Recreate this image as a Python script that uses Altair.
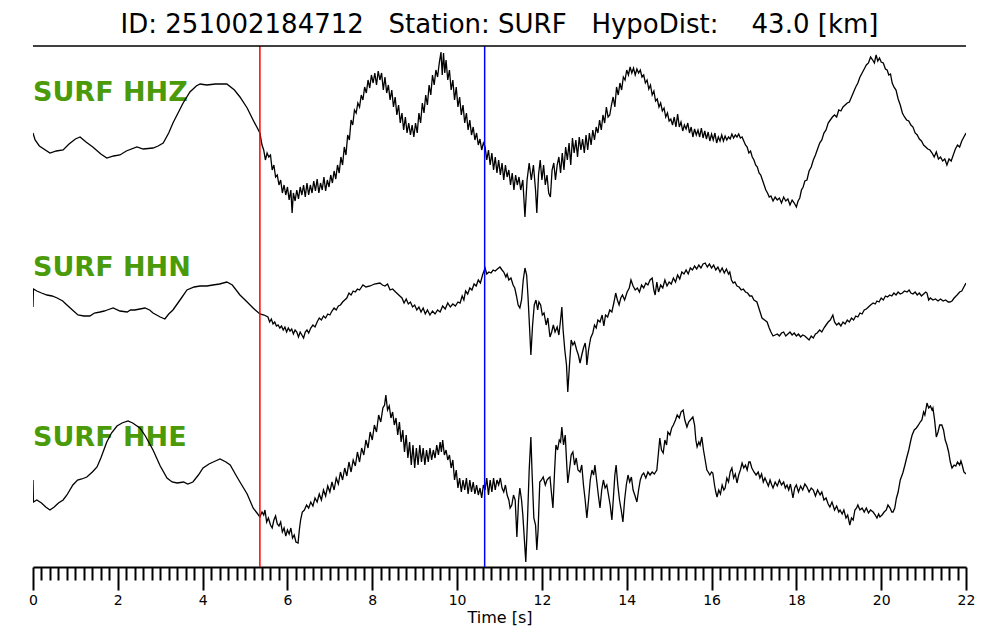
import altair as alt
import pandas as pd

# ---------------- data ----------------
TITLE = "ID: 251002184712\u00a0\u00a0\u00a0Station: SURF\u00a0\u00a0\u00a0HypoDist:\u00a0\u00a0\u00a0\u00a043.0 [km]"
STATION = "SURF"
CHANNELS = ["HHZ", "HHN", "HHE"]
PICK_TIMES = [5.35, 10.65]
PICK_COLORS = ["#ff0000", "#0000ff"]

# (time [s], amplitude) samples
HHZ = [(0.00, 2), (0.05, -5), (0.15, -11), (0.40, -18), (0.55, -16), (0.71, -15), (0.85, -9), (1.00, -4), (1.11, -2), (1.25, -7),
       (1.41, -12), (1.60, -19), (1.74, -23), (1.90, -21), (2.05, -20), (2.20, -16), (2.45, -12), (2.60, -14), (2.83, -13), (2.95, -11),
       (3.07, -8), (3.20, 2), (3.30, 12), (3.54, 32), (3.70, 43), (3.85, 49), (3.94, 51), (4.10, 50), (4.30, 51), (4.57, 51),
       (4.75, 45), (4.88, 38), (5.05, 27), (5.19, 15), (5.35, 2), (5.40, -10), (5.44, -15), (5.48, -25), (5.52, -18), (5.56, -22),
       (5.60, -20), (5.64, -35), (5.68, -30), (5.72, -42), (5.76, -40), (5.80, -50), (5.84, -45), (5.88, -58), (5.92, -50), (5.96, -60),
       (6.00, -52), (6.04, -65), (6.08, -55), (6.11, -78), (6.14, -58), (6.18, -66), (6.22, -55), (6.26, -64), (6.30, -52), (6.34, -60),
       (6.38, -50), (6.42, -62), (6.46, -48), (6.50, -60), (6.54, -50), (6.58, -58), (6.62, -46), (6.66, -56), (6.70, -44), (6.74, -58),
       (6.78, -48), (6.82, -55), (6.86, -42), (6.90, -56), (6.94, -45), (6.98, -52), (7.02, -40), (7.06, -48), (7.10, -36), (7.14, -44),
       (7.18, -30), (7.22, -38), (7.26, -22), (7.30, -30), (7.34, -12), (7.38, -20), (7.42, 0), (7.46, -5), (7.50, 15), (7.54, 10),
       (7.58, 25), (7.62, 22), (7.66, 32), (7.70, 28), (7.74, 40), (7.78, 35), (7.82, 48), (7.86, 42), (7.90, 55), (7.94, 47),
       (7.98, 60), (8.02, 52), (8.06, 62), (8.10, 50), (8.14, 64), (8.18, 55), (8.22, 62), (8.26, 45), (8.30, 58), (8.34, 42),
       (8.38, 50), (8.42, 35), (8.46, 45), (8.50, 28), (8.54, 38), (8.58, 20), (8.62, 30), (8.66, 12), (8.70, 22), (8.74, 5),
       (8.78, 18), (8.82, 2), (8.86, 12), (8.90, 0), (8.94, 10), (8.98, -2), (9.02, 12), (9.06, 2), (9.10, 22), (9.14, 12),
       (9.18, 32), (9.22, 22), (9.26, 40), (9.30, 30), (9.34, 50), (9.38, 40), (9.42, 60), (9.46, 50), (9.50, 65), (9.54, 58),
       (9.58, 72), (9.62, 83), (9.65, 60), (9.68, 82), (9.71, 62), (9.74, 75), (9.78, 55), (9.82, 65), (9.86, 45), (9.90, 55),
       (9.94, 35), (9.98, 48), (10.02, 28), (10.06, 38), (10.10, 20), (10.14, 30), (10.18, 12), (10.22, 22), (10.26, 5), (10.30, 15),
       (10.34, 0), (10.38, 8), (10.42, -5), (10.46, 2), (10.50, -10), (10.54, -4), (10.58, -15), (10.62, -8), (10.66, -12), (10.70, -25),
       (10.74, -15), (10.78, -30), (10.82, -18), (10.86, -35), (10.90, -22), (10.94, -38), (10.98, -25), (11.02, -40), (11.06, -28), (11.10, -45),
       (11.14, -30), (11.18, -42), (11.22, -35), (11.26, -50), (11.30, -38), (11.34, -55), (11.38, -40), (11.42, -50), (11.46, -42), (11.50, -55),
       (11.55, -45), (11.60, -82), (11.65, -45), (11.70, -28), (11.75, -45), (11.80, -30), (11.85, -55), (11.88, -78), (11.92, -40), (11.96, -25),
       (12.00, -45), (12.04, -30), (12.08, -50), (12.12, -40), (12.16, -58), (12.20, -62), (12.24, -35), (12.28, -28), (12.32, -45), (12.36, -30),
       (12.40, -22), (12.44, -38), (12.48, -18), (12.52, -35), (12.56, -12), (12.60, -25), (12.64, -8), (12.68, -30), (12.72, -3), (12.76, -18),
       (12.80, -5), (12.84, -22), (12.88, -2), (12.92, -15), (12.96, -4), (13.00, -18), (13.04, 0), (13.08, -15), (13.12, 2), (13.16, -10),
       (13.20, 5), (13.24, -5), (13.28, 8), (13.32, 2), (13.36, 15), (13.40, 5), (13.44, 20), (13.48, 12), (13.52, 28), (13.56, 18),
       (13.60, 20), (13.64, 30), (13.68, 38), (13.72, 28), (13.76, 48), (13.80, 40), (13.84, 52), (13.88, 45), (13.92, 58), (13.96, 55),
       (14.00, 65), (14.04, 60), (14.08, 68), (14.12, 62), (14.16, 67), (14.20, 60), (14.24, 66), (14.28, 62), (14.32, 65), (14.36, 58),
       (14.40, 60), (14.44, 52), (14.48, 55), (14.52, 46), (14.56, 50), (14.60, 40), (14.64, 44), (14.68, 34), (14.72, 36), (14.76, 28),
       (14.80, 32), (14.84, 24), (14.88, 27), (14.92, 18), (14.96, 22), (15.00, 14), (15.04, 16), (15.08, 10), (15.12, 18), (15.16, 8),
       (15.20, 21), (15.24, 8), (15.28, 13), (15.32, 4), (15.36, 10), (15.40, 6), (15.44, 12), (15.48, 2), (15.52, 8), (15.56, -2),
       (15.60, 6), (15.64, 0), (15.68, 5), (15.72, -2), (15.76, 7), (15.80, -3), (15.84, 4), (15.88, -4), (15.92, 3), (15.96, -6),
       (16.00, 1), (16.04, -5), (16.08, 2), (16.12, -8), (16.16, -2), (16.20, -6), (16.24, 0), (16.28, -6), (16.32, -1), (16.36, -5),
       (16.40, -2), (16.44, -4), (16.48, 1), (16.52, -3), (16.56, 0), (16.60, -2), (16.64, 1), (16.68, -3), (16.72, -2), (16.76, -6),
       (16.80, -10), (16.84, -12), (16.88, -18), (16.92, -16), (16.96, -22), (17.00, -25), (17.04, -30), (17.08, -32), (17.12, -38), (17.16, -40),
       (17.20, -45), (17.24, -50), (17.28, -55), (17.32, -58), (17.36, -62), (17.40, -61), (17.45, -66), (17.50, -62), (17.55, -65), (17.60, -63),
       (17.65, -68), (17.70, -62), (17.75, -66), (17.80, -64), (17.85, -70), (17.90, -65), (17.95, -68), (18.00, -72), (18.04, -66), (18.08, -63),
       (18.12, -55), (18.16, -52), (18.20, -46), (18.25, -45), (18.30, -36), (18.35, -32), (18.40, -25), (18.45, -20), (18.50, -14), (18.55, -8),
       (18.60, -5), (18.65, 2), (18.70, 5), (18.75, 12), (18.80, 15), (18.85, 18), (18.90, 20), (18.95, 18), (19.00, 25), (19.05, 24),
       (19.10, 28), (19.15, 30), (19.20, 32), (19.25, 33), (19.30, 38), (19.35, 43), (19.40, 48), (19.45, 52), (19.50, 58), (19.55, 62),
       (19.60, 66), (19.65, 70), (19.70, 72), (19.75, 78), (19.80, 75), (19.84, 72), (19.88, 80), (19.92, 74), (19.96, 77), (20.00, 73),
       (20.05, 72), (20.10, 66), (20.14, 65), (20.18, 60), (20.22, 61), (20.26, 52), (20.30, 48), (20.35, 45), (20.40, 36), (20.45, 30),
       (20.50, 22), (20.55, 18), (20.60, 15), (20.65, 14), (20.70, 10), (20.75, 8), (20.80, 2), (20.85, 0), (20.90, -4), (20.95, -6),
       (21.00, -10), (21.05, -12), (21.10, -14), (21.15, -15), (21.20, -18), (21.25, -22), (21.30, -17), (21.35, -24), (21.40, -22), (21.45, -26),
       (21.50, -24), (21.55, -30), (21.60, -24), (21.65, -26), (21.70, -20), (21.75, -14), (21.80, -10), (21.85, -12), (21.90, -6), (21.95, -2),
       (22.00, 2)]

HHN = [(0.00, 3), (0.01, 21), (0.09, 19), (0.20, 17), (0.33, 15), (0.45, 14), (0.57, 12), (0.70, 9), (0.80, 5), (0.93, 0),
       (1.06, -5), (1.20, -6), (1.34, -6), (1.45, -3), (1.58, -2), (1.68, -1), (1.75, 0), (1.89, 2), (2.05, -1), (2.22, -2),
       (2.30, 0), (2.40, 0), (2.52, 1), (2.64, 2), (2.75, 0), (2.83, -3), (3.00, -7), (3.11, -9), (3.20, -4), (3.30, 0),
       (3.40, 6), (3.50, 12), (3.63, 20), (3.80, 23), (3.94, 24), (4.10, 24), (4.24, 25), (4.40, 26), (4.57, 28), (4.70, 25),
       (4.88, 15), (5.05, 8), (5.19, 2), (5.35, -4), (5.45, -5), (5.54, -7), (5.58, -12), (5.62, -9), (5.66, -14), (5.70, -12),
       (5.74, -16), (5.78, -15), (5.82, -18), (5.86, -16), (5.90, -20), (5.94, -17), (5.98, -22), (6.02, -18), (6.06, -21), (6.10, -19),
       (6.14, -24), (6.18, -20), (6.22, -22), (6.26, -27), (6.30, -22), (6.34, -25), (6.38, -28), (6.42, -22), (6.46, -20), (6.50, -23),
       (6.55, -18), (6.60, -15), (6.65, -17), (6.70, -12), (6.75, -8), (6.80, -10), (6.85, -6), (6.90, -8), (6.95, -4), (7.00, -5),
       (7.05, -1), (7.10, 2), (7.15, 0), (7.20, 4), (7.25, 5), (7.30, 8), (7.35, 10), (7.40, 12), (7.45, 17), (7.50, 15),
       (7.55, 19), (7.60, 18), (7.65, 21), (7.70, 20), (7.78, 25), (7.85, 23), (7.95, 24), (8.05, 26), (8.18, 27), (8.24, 25),
       (8.30, 24), (8.36, 26), (8.42, 20), (8.48, 21), (8.55, 18), (8.60, 16), (8.65, 14), (8.70, 12), (8.75, 7), (8.80, 11),
       (8.85, 6), (8.90, 8), (8.95, 3), (9.00, 5), (9.05, 0), (9.10, 3), (9.15, -2), (9.20, 2), (9.25, -4), (9.30, 0),
       (9.36, -5), (9.42, -1), (9.48, -4), (9.54, 0), (9.60, -2), (9.66, 4), (9.72, 1), (9.78, 7), (9.84, 3), (9.90, 6),
       (9.96, 4), (10.02, 8), (10.07, 7), (10.12, 14), (10.16, 10), (10.20, 19), (10.25, 16), (10.30, 22), (10.35, 20), (10.40, 26),
       (10.45, 24), (10.50, 30), (10.55, 27), (10.60, 35), (10.66, 42), (10.70, 36), (10.75, 38), (10.80, 37), (10.85, 40), (10.90, 39),
       (10.95, 41), (11.01, 43), (11.06, 40), (11.10, 38), (11.15, 33), (11.18, 36), (11.22, 30), (11.27, 32), (11.32, 25), (11.36, 22),
       (11.40, 14), (11.44, 5), (11.48, 2), (11.52, 10), (11.56, 30), (11.60, 42), (11.64, 35), (11.67, 15), (11.70, -10), (11.74, -45),
       (11.78, -15), (11.82, 5), (11.86, 10), (11.90, 0), (11.93, 8), (11.97, 5), (12.01, -5), (12.05, -3), (12.10, -15), (12.14, -8),
       (12.19, -27), (12.23, -22), (12.27, -15), (12.31, -22), (12.36, -17), (12.40, -25), (12.44, -10), (12.47, 3), (12.50, -20), (12.54, -40),
       (12.58, -55), (12.61, -82), (12.65, -55), (12.69, -30), (12.73, -35), (12.77, -32), (12.82, -40), (12.86, -45), (12.90, -53), (12.94, -45),
       (12.98, -38), (13.02, -33), (13.04, -40), (13.06, -55), (13.10, -40), (13.15, -28), (13.20, -23), (13.24, -15), (13.28, -18), (13.32, -10),
       (13.37, -12), (13.42, -5), (13.46, -16), (13.50, -5), (13.55, -7), (13.60, 0), (13.65, -2), (13.70, 8), (13.74, 17), (13.78, 10),
       (13.82, 5), (13.86, 12), (13.90, 15), (13.95, 10), (14.01, 18), (14.06, 22), (14.10, 30), (14.15, 24), (14.20, 20), (14.25, 22),
       (14.30, 18), (14.35, 25), (14.40, 22), (14.45, 27), (14.50, 25), (14.55, 30), (14.60, 32), (14.64, 20), (14.67, 15), (14.71, 28),
       (14.75, 18), (14.80, 25), (14.85, 22), (14.90, 30), (14.95, 24), (15.00, 28), (15.05, 26), (15.10, 32), (15.15, 28), (15.20, 35),
       (15.25, 31), (15.30, 38), (15.35, 36), (15.40, 40), (15.45, 36), (15.50, 42), (15.55, 40), (15.60, 44), (15.65, 41), (15.70, 45),
       (15.75, 42), (15.80, 46), (15.85, 47), (15.90, 43), (15.95, 46), (16.00, 42), (16.05, 45), (16.10, 40), (16.15, 43), (16.20, 38),
       (16.25, 42), (16.30, 37), (16.35, 41), (16.40, 36), (16.43, 38), (16.47, 30), (16.51, 27), (16.55, 28), (16.60, 24), (16.65, 23),
       (16.70, 20), (16.75, 21), (16.80, 18), (16.85, 17), (16.90, 14), (16.95, 14), (17.00, 10), (17.07, 8), (17.13, 0), (17.19, -8),
       (17.25, -10), (17.31, -12), (17.36, -18), (17.40, -22), (17.45, -26), (17.50, -25), (17.55, -24), (17.60, -26), (17.65, -23), (17.70, -22),
       (17.75, -26), (17.80, -24), (17.85, -22), (17.90, -25), (17.95, -23), (18.00, -26), (18.05, -24), (18.10, -27), (18.15, -25), (18.20, -26),
       (18.25, -28), (18.30, -30), (18.35, -26), (18.40, -28), (18.45, -24), (18.49, -23), (18.55, -20), (18.60, -22), (18.65, -18), (18.70, -15),
       (18.75, -12), (18.80, -10), (18.86, -5), (18.90, -12), (18.95, -15), (19.00, -13), (19.05, -16), (19.10, -12), (19.15, -14), (19.20, -10),
       (19.25, -12), (19.30, -8), (19.35, -10), (19.40, -6), (19.45, -7), (19.50, -3), (19.55, -4), (19.60, 0), (19.65, 1), (19.70, 3),
       (19.75, 5), (19.81, 7), (19.86, 6), (19.90, 9), (19.95, 8), (20.00, 12), (20.05, 10), (20.10, 14), (20.15, 13), (20.20, 15),
       (20.25, 14), (20.30, 17), (20.35, 15), (20.40, 18), (20.45, 16), (20.50, 17), (20.55, 19), (20.61, 18), (20.66, 20), (20.70, 17),
       (20.75, 16), (20.80, 18), (20.85, 15), (20.90, 17), (20.95, 14), (21.00, 16), (21.05, 18), (21.08, 17), (21.12, 10), (21.16, 12),
       (21.22, 10), (21.28, 11), (21.34, 9), (21.40, 11), (21.46, 9), (21.52, 10), (21.58, 8), (21.62, 8), (21.67, 9), (21.72, 12),
       (21.79, 15), (21.85, 18), (21.90, 19), (21.95, 23), (22.00, 27)]

HHE = [(0.00, 0), (0.01, -22), (0.09, -20), (0.20, -23), (0.30, -27), (0.40, -30), (0.50, -27), (0.60, -23), (0.71, -20), (0.80, -15),
       (0.94, -5), (1.05, 0), (1.15, 1), (1.27, 3), (1.40, 8), (1.51, 13), (1.60, 22), (1.74, 38), (1.85, 47), (1.98, 54),
       (2.10, 57), (2.24, 59), (2.35, 57), (2.52, 52), (2.65, 44), (2.83, 30), (3.00, 14), (3.16, 2), (3.28, -2), (3.40, -3),
       (3.55, -2), (3.65, -4), (3.77, -2), (3.90, 5), (4.01, 12), (4.15, 16), (4.30, 19), (4.41, 21), (4.55, 18), (4.65, 15),
       (4.77, 6), (4.88, -2), (5.05, -14), (5.19, -28), (5.30, -34), (5.35, -37), (5.40, -32), (5.44, -35), (5.47, -30), (5.51, -42),
       (5.55, -38), (5.60, -45), (5.64, -48), (5.68, -40), (5.72, -36), (5.76, -44), (5.80, -46), (5.84, -42), (5.88, -52), (5.92, -48),
       (5.96, -56), (6.00, -50), (6.04, -54), (6.08, -48), (6.12, -58), (6.16, -55), (6.20, -62), (6.25, -63), (6.28, -50), (6.31, -40),
       (6.35, -32), (6.40, -30), (6.45, -25), (6.50, -28), (6.55, -22), (6.60, -26), (6.65, -18), (6.70, -22), (6.75, -14), (6.80, -20),
       (6.85, -10), (6.90, -16), (6.95, -6), (7.00, -12), (7.05, -2), (7.10, -10), (7.15, 2), (7.20, -4), (7.25, 8), (7.30, 0),
       (7.35, 12), (7.40, 4), (7.45, 18), (7.50, 8), (7.55, 20), (7.60, 14), (7.65, 28), (7.70, 18), (7.75, 32), (7.80, 25),
       (7.85, 40), (7.90, 32), (7.95, 48), (8.00, 40), (8.05, 55), (8.10, 48), (8.15, 65), (8.20, 58), (8.25, 72), (8.29, 75),
       (8.32, 85), (8.36, 70), (8.40, 74), (8.44, 62), (8.48, 68), (8.52, 55), (8.56, 62), (8.60, 45), (8.64, 58), (8.68, 38),
       (8.72, 50), (8.76, 28), (8.80, 45), (8.84, 22), (8.88, 38), (8.92, 15), (8.96, 35), (9.00, 12), (9.04, 32), (9.08, 15),
       (9.12, 35), (9.16, 18), (9.20, 32), (9.24, 15), (9.28, 30), (9.32, 18), (9.36, 32), (9.40, 20), (9.44, 30), (9.48, 22),
       (9.52, 35), (9.56, 25), (9.60, 38), (9.63, 28), (9.66, 40), (9.70, 25), (9.74, 30), (9.78, 20), (9.82, 25), (9.86, 12),
       (9.90, 20), (9.94, 0), (9.98, 10), (10.02, -8), (10.06, 2), (10.10, -12), (10.14, 0), (10.18, -10), (10.22, 2), (10.26, -14),
       (10.30, 0), (10.34, -12), (10.38, -2), (10.42, -14), (10.46, -5), (10.50, -15), (10.54, -8), (10.58, -18), (10.62, -5), (10.66, -10),
       (10.70, 2), (10.74, -15), (10.78, 0), (10.82, -12), (10.86, 2), (10.90, -10), (10.94, 0), (10.98, -5), (11.02, 2), (11.06, -8),
       (11.10, -12), (11.14, -5), (11.18, -15), (11.22, -20), (11.25, -28), (11.29, -25), (11.33, -15), (11.37, -20), (11.41, -57), (11.45, -20),
       (11.48, -8), (11.52, -20), (11.55, -35), (11.58, -55), (11.62, -82), (11.66, -40), (11.70, 10), (11.74, 43), (11.77, 5), (11.81, -38),
       (11.85, -45), (11.88, -70), (11.91, -50), (11.95, -2), (11.99, 0), (12.03, 3), (12.08, -5), (12.12, 0), (12.16, 2), (12.19, 3),
       (12.23, -15), (12.26, -28), (12.30, 10), (12.33, 35), (12.37, 30), (12.41, 40), (12.44, 38), (12.47, 53), (12.51, 35), (12.55, 45),
       (12.58, 20), (12.61, -3), (12.65, 10), (12.69, 25), (12.73, 28), (12.77, 15), (12.81, 22), (12.85, 10), (12.90, 8), (12.94, 15),
       (12.98, -5), (13.02, -20), (13.06, -38), (13.10, -20), (13.14, 0), (13.18, 10), (13.22, 5), (13.25, 15), (13.29, 0), (13.33, -15),
       (13.37, -28), (13.41, -10), (13.45, 0), (13.49, -8), (13.53, -5), (13.57, -15), (13.61, -25), (13.65, -40), (13.69, -15), (13.72, 5),
       (13.75, 15), (13.79, -5), (13.83, -20), (13.87, -30), (13.91, -42), (13.95, -20), (13.99, -5), (14.03, 5), (14.07, -2), (14.11, 3),
       (14.15, -10), (14.19, -15), (14.24, -22), (14.28, -10), (14.32, 0), (14.36, 5), (14.40, 7), (14.45, 2), (14.50, 8), (14.55, 5),
       (14.60, 8), (14.65, 6), (14.71, 10), (14.75, 28), (14.78, 42), (14.82, 30), (14.86, 27), (14.90, 40), (14.94, 35), (14.97, 48),
       (15.02, 45), (15.06, 52), (15.10, 55), (15.15, 60), (15.19, 65), (15.24, 62), (15.28, 68), (15.33, 70), (15.37, 60), (15.42, 53),
       (15.46, 58), (15.50, 60), (15.56, 63), (15.60, 55), (15.63, 40), (15.66, 33), (15.70, 38), (15.73, 35), (15.77, 43), (15.81, 30),
       (15.85, 20), (15.89, 10), (15.92, 8), (15.96, 5), (16.00, 8), (16.03, 7), (16.07, -5), (16.10, -12), (16.13, -17), (16.17, -10),
       (16.21, -14), (16.25, -5), (16.29, -10), (16.32, -8), (16.36, 2), (16.40, -2), (16.44, 8), (16.48, 12), (16.52, 2), (16.56, 6),
       (16.60, -3), (16.64, 5), (16.68, 10), (16.72, 17), (16.76, 12), (16.80, 15), (16.84, 10), (16.88, 18), (16.91, 18), (16.95, 12),
       (17.00, 8), (17.05, 5), (17.10, 8), (17.14, 2), (17.18, 6), (17.22, -2), (17.26, 2), (17.30, -2), (17.34, -6), (17.38, 0),
       (17.42, -5), (17.45, -8), (17.50, -2), (17.55, -6), (17.60, 0), (17.65, -5), (17.70, -2), (17.74, -8), (17.78, -5), (17.82, -10),
       (17.86, -4), (17.92, -18), (17.96, -8), (18.00, -5), (18.05, -12), (18.10, -6), (18.15, -10), (18.20, -4), (18.25, -7), (18.30, -12),
       (18.35, -8), (18.40, -10), (18.45, -16), (18.50, -10), (18.56, -15), (18.60, -12), (18.65, -20), (18.70, -18), (18.75, -24), (18.79, -27),
       (18.84, -22), (18.90, -30), (18.95, -26), (19.00, -32), (19.03, -30), (19.08, -34), (19.12, -30), (19.17, -38), (19.21, -35), (19.26, -45),
       (19.30, -38), (19.34, -40), (19.38, -30), (19.42, -28), (19.45, -25), (19.50, -30), (19.55, -28), (19.60, -32), (19.65, -28), (19.70, -33),
       (19.75, -30), (19.81, -32), (19.86, -35), (19.90, -38), (19.94, -34), (19.97, -37), (20.02, -35), (20.07, -32), (20.12, -30), (20.16, -25),
       (20.21, -28), (20.25, -32), (20.28, -32), (20.32, -28), (20.36, -18), (20.40, -12), (20.45, 0), (20.51, 7), (20.56, 15), (20.60, 22),
       (20.65, 30), (20.70, 40), (20.73, 45), (20.78, 50), (20.83, 52), (20.88, 55), (20.92, 58), (20.96, 60), (21.00, 68), (21.03, 65),
       (21.06, 72), (21.08, 77), (21.12, 72), (21.16, 74), (21.20, 70), (21.22, 72), (21.26, 60), (21.30, 43), (21.34, 48), (21.38, 55),
       (21.43, 55), (21.47, 50), (21.51, 40), (21.55, 35), (21.59, 28), (21.63, 18), (21.67, 12), (21.72, 15), (21.76, 14), (21.80, 18),
       (21.85, 15), (21.88, 19), (21.91, 15), (21.95, 8), (22.00, 6)]

# ---------------- layout (not data) ----------------
W, H = 933, 521
OFFSETS = {"HHZ": 0, "HHN": -175, "HHE": -345}
LABEL_RISE = 34
Y_DOMAIN = [-432, 89]
X_TICKS = [round(i * 0.2, 1) for i in range(111)]
MAJOR = "abs(datum.value - 2 * round(datum.value / 2)) < 0.01"
GREEN = "#4b9a0a"
FONT = "DejaVu Sans"

rows = []
for ch, samples in (("HHZ", HHZ), ("HHN", HHN), ("HHE", HHE)):
    for t, a in samples:
        rows.append({"trace": ch, "t": t, "y": a + OFFSETS[ch]})
waves = pd.DataFrame(rows)
picks = pd.DataFrame({"t": PICK_TIMES, "c": PICK_COLORS})
labels = pd.DataFrame({"label": [f"{STATION} {c}" for c in CHANNELS],
                       "ly": [OFFSETS[c] + LABEL_RISE for c in CHANNELS]})
one = pd.DataFrame({"k": [0]})

yscale = alt.Scale(domain=Y_DOMAIN, nice=False, zero=False)
xenc = alt.X(
    "t:Q",
    scale=alt.Scale(domain=[0, 22], nice=False, zero=False),
    axis=alt.Axis(
        values=X_TICKS,
        tickSize={"condition": {"test": MAJOR, "value": 23}, "value": 13},
        labelExpr=f"({MAJOR}) ? format(datum.value, '.0f') : ''",
        grid=False,
        domainColor="black", domainWidth=2,
        tickColor="black", tickWidth=2,
        labelColor="black", labelFont=FONT, labelFontSize=14,
        labelPadding=3, labelOverlap=False, labelFlush=False,
        title="Time [s]", titleFont=FONT, titleFontSize=16, titleFontWeight="normal",
        titleColor="black", titlePadding=2,
    ),
)

label_layer = alt.Chart(labels).mark_text(
    align="left", baseline="alphabetic", font=FONT, fontSize=27, fontWeight="bold", color=GREEN
).encode(x=alt.value(0), y=alt.Y("ly:Q", scale=yscale, axis=None), text="label:N")

wave_layer = alt.Chart(waves).mark_line(color="black", strokeWidth=1.3, clip=True).encode(
    x=xenc, y=alt.Y("y:Q", scale=yscale, axis=None), detail="trace:N", order="t:Q"
)

pick_layer = alt.Chart(picks).mark_rule(strokeWidth=1.5).encode(
    x=xenc, color=alt.Color("c:N", scale=None), y=alt.value(0), y2=alt.value(H)
)

top_line = alt.Chart(one).mark_rule(color="black", strokeWidth=1.6).encode(
    x=alt.value(0), x2=alt.value(W), y=alt.value(0)
)

title_layer = alt.Chart(one).mark_text(
    font=FONT, fontSize=26, color="black", align="center", baseline="middle"
).encode(x=alt.value(W / 2), y=alt.value(-21), text=alt.value(TITLE))

chart = alt.layer(label_layer, wave_layer, pick_layer, top_line, title_layer).properties(
    width=W, height=H,
    autosize=alt.AutoSizeParams(type="none"),
    padding={"left": 25, "top": 38, "right": 26, "bottom": 65},
).configure_view(strokeWidth=0)

chart.save("out.html", embed_options={"renderer": "svg", "actions": False})
